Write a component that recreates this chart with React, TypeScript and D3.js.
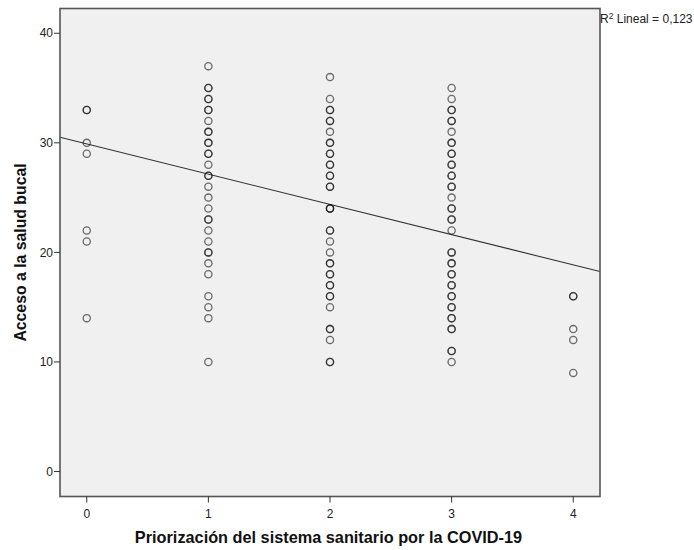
import React from "react";
import * as d3 from "d3";

// Observations: [x, y]; repeated entries mark overlapping cases (darker circles)
const col0: number[] = [33, 33, 30, 29, 22, 21, 14];
const col1: number[] = [37, 35, 35, 34, 34, 33, 33, 32, 31, 31, 30, 30, 29, 29, 28, 27, 27, 26, 25, 24, 23, 23, 22, 21, 20, 20, 19, 18, 16, 15, 14, 10];
const col2: number[] = [36, 34, 33, 33, 32, 32, 31, 30, 30, 29, 29, 28, 28, 27, 27, 26, 26, 24, 24, 24, 22, 22, 21, 20, 19, 19, 18, 18, 17, 17, 16, 16, 15, 13, 13, 12, 10, 10];
const col3: number[] = [35, 34, 33, 33, 32, 32, 31, 30, 30, 29, 29, 28, 28, 27, 27, 26, 26, 25, 24, 24, 23, 23, 22, 20, 20, 19, 19, 18, 18, 17, 17, 16, 16, 15, 15, 14, 14, 13, 13, 11, 11, 10];
const col4: number[] = [16, 16, 13, 12, 9];
const columns: number[][] = [col0, col1, col2, col3, col4];

const xTicks: number[] = [0, 1, 2, 3, 4];
const yTicks: number[] = [0, 10, 20, 30, 40];
const fitIntercept = 29.9;
const fitSlope = -2.76;
const r2Label = "0,123";
const xTitle = "Priorización del sistema sanitario por la COVID-19";
const yTitle = "Acceso a la salud bucal";

const W = 694;
const H = 550;
const left = 60;
const right = 600;
const top = 8.5;
const bottom = 496.5;

export default function App() {
  const x = d3.scaleLinear().domain([-0.22, 4.22]).range([left, right]);
  const y = d3.scaleLinear().domain([-2.28, 42.26]).range([bottom, top]);
  const pts: [number, number][] = [];
  columns.forEach((c, i) => c.forEach((v) => pts.push([i, v])));
  const font = "'Liberation Sans', Arial, sans-serif";
  const xd = x.domain();
  return (
    <svg width={W} height={H} style={{ position: "absolute", left: 0, top: 0 }}>
      <rect x={0} y={0} width={W} height={H} fill="#fff" />
      <rect x={left} y={top} width={right - left} height={bottom - top} fill="#f0f0f0" />
      <line
        x1={x(xd[0])}
        y1={y(fitIntercept + fitSlope * xd[0])}
        x2={x(xd[1])}
        y2={y(fitIntercept + fitSlope * xd[1])}
        stroke="#333"
        strokeWidth={1.1}
      />
      {pts.map((p, i) => (
        <circle
          key={i}
          cx={x(p[0])}
          cy={y(p[1])}
          r={3.6}
          fill="none"
          stroke="#111"
          strokeOpacity={0.6}
          strokeWidth={1.3}
        />
      ))}
      <rect x={left} y={top} width={right - left} height={bottom - top} fill="none" stroke="#555" strokeWidth={1.6} />
      {yTicks.map((t) => (
        <g key={t}>
          <line x1={left - 6} x2={left} y1={y(t)} y2={y(t)} stroke="#333" strokeWidth={1} />
          <text x={left - 7} y={y(t)} dy="0.35em" textAnchor="end" fontSize={12} fontFamily={font} fill="#222">
            {t}
          </text>
        </g>
      ))}
      {xTicks.map((t) => (
        <g key={t}>
          <line x1={x(t)} x2={x(t)} y1={bottom} y2={bottom + 6} stroke="#333" strokeWidth={1} />
          <text x={x(t)} y={bottom + 21} textAnchor="middle" fontSize={12} fontFamily={font} fill="#222">
            {t}
          </text>
        </g>
      ))}
      <text x={(133 + 524) / 2} y={542.5} textAnchor="middle" fontSize={16.3} fontWeight="bold" fontFamily={font} fill="#111">
        {xTitle}
      </text>
      <text
        transform={`translate(25.5,${(161.7 + 343.3) / 2}) rotate(-90)`}
        textAnchor="middle"
        fontSize={15.8}
        fontWeight="bold"
        fontFamily={font}
        fill="#111"
      >
        {yTitle}
      </text>
      <text x={600} y={23} fontSize={12} fontFamily={font} fill="#222">
        R<tspan dy={-4.5} fontSize={8.5}>2</tspan>
        <tspan dy={4.5}> Lineal = {r2Label}</tspan>
      </text>
    </svg>
  );
}
